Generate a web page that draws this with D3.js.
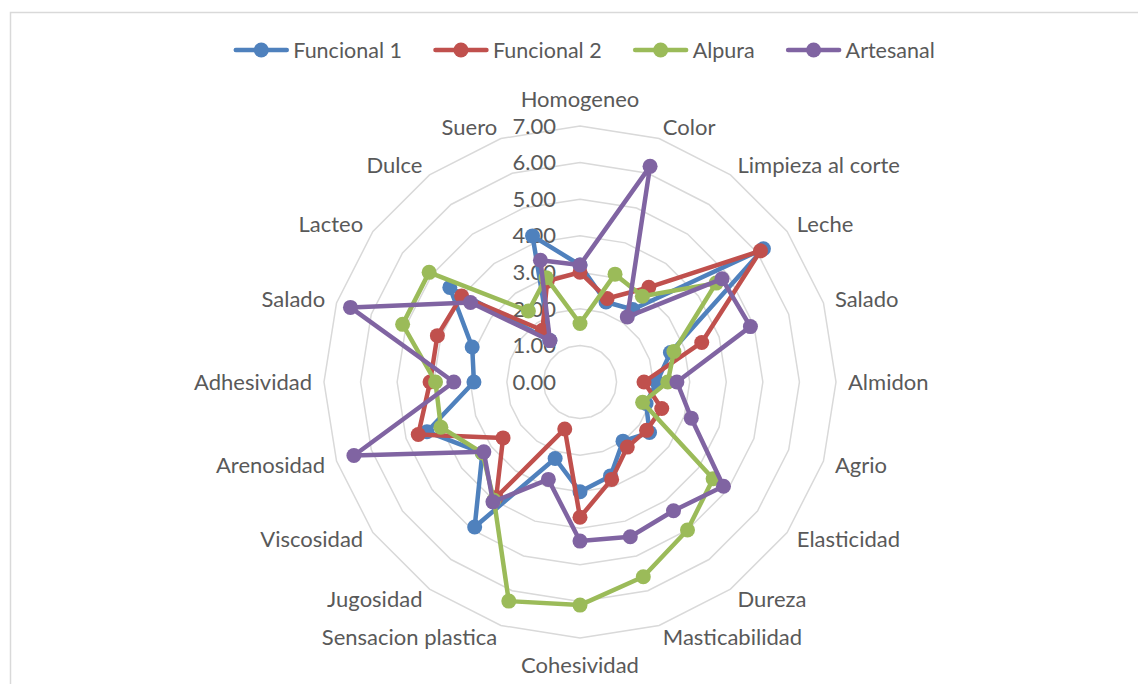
<!DOCTYPE html>
<html>
<head>
<meta charset="utf-8">
<script src="https://cdnjs.cloudflare.com/ajax/libs/d3/7.8.5/d3.min.js"></script>
<style>
  body { margin: 0; background: #fff; }
  text { font-family: Lato, "Open Sans", sans-serif; fill: #595959; }
</style>
</head>
<body>
<div id="chart"></div>
<script>
var axes = ['Homogeneo', 'Color', 'Limpieza al corte', 'Leche', 'Salado', 'Almidon', 'Agrio',
  'Elasticidad', 'Dureza', 'Masticabilidad', 'Cohesividad', 'Sensacion plastica', 'Jugosidad',
  'Viscosidad', 'Arenosidad', 'Adhesividad', 'Salado', 'Lacteo', 'Dulce', 'Suero'];

var funcional1 = [3.2, 2.3, 2.45, 6.2, 2.6, 2.1, 1.9, 2.35, 2.0, 2.7, 3.0, 2.2, 4.9, 3.3, 4.4, 2.9, 3.1, 4.4, 1.4, 4.2];
var funcional2 = [3.0, 2.4, 3.2, 6.1, 3.5, 1.75, 2.35, 2.25, 2.2, 2.8, 3.7, 1.35, 3.9, 2.6, 4.65, 4.1, 4.1, 4.0, 1.75, 2.9];
var alpura     = [1.6, 3.1, 2.9, 4.6, 2.7, 2.4, 1.8, 4.5, 5.0, 5.6, 6.1, 6.3, 4.0, 3.3, 4.0, 3.95, 5.1, 5.1, 2.4, 3.0];
var artesanal  = [3.2, 6.2, 2.2, 4.8, 4.9, 2.65, 3.2, 4.85, 4.35, 4.45, 4.35, 2.8, 4.05, 3.25, 6.5, 3.45, 6.6, 3.7, 1.4, 3.5];

var seriesNames = ['Funcional 1', 'Funcional 2', 'Alpura', 'Artesanal'];
var ticks = [0, 1, 2, 3, 4, 5, 6, 7];

var series = [funcional1, funcional2, alpura, artesanal].map(function(v, i) {
  return { name: seriesNames[i], values: v };
});

var width = 1138, height = 684,
    cx = 580, cy = 382, R = 256;

var colors = d3.scaleOrdinal()
    .domain(seriesNames)
    .range(['#4f81bd', '#c0504d', '#9bbb59', '#8064a2']);

var rScale = d3.scaleLinear()
    .domain([0, d3.max(ticks)])
    .range([0, R]);

var angle = d3.scaleLinear()
    .domain([0, axes.length])
    .range([0, 2 * Math.PI]);

function px(v, i) { return rScale(v) * Math.sin(angle(i)); }
function py(v, i) { return -rScale(v) * Math.cos(angle(i)); }

var svg = d3.select('#chart').append('svg')
    .attr('width', width)
    .attr('height', height);

// chart frame (right and bottom edges fall outside the picture)
svg.append('rect')
    .attr('x', 10.5).attr('y', 12.5)
    .attr('width', 1200).attr('height', 800)
    .style('fill', 'none')
    .style('stroke', '#d9d9d9')
    .style('stroke-width', 1.5);

var g = svg.append('g')
    .attr('transform', 'translate(' + cx + ',' + cy + ')');

// grid polygons
g.selectAll('.grid')
  .data(ticks.slice(1))
  .enter().append('path')
    .attr('class', 'grid')
    .attr('d', function(t) {
      return d3.lineRadial()
        .angle(function(d, i) { return angle(i); })
        .radius(rScale(t))
        .curve(d3.curveLinearClosed)(axes);
    })
    .style('fill', 'none')
    .style('stroke', '#d9d9d9')
    .style('stroke-width', 1.5);

// value labels
g.selectAll('.tick')
  .data(ticks)
  .enter().append('text')
    .attr('class', 'tick')
    .attr('x', -24)
    .attr('y', function(t) { return -rScale(t); })
    .attr('dy', '0.35em')
    .attr('text-anchor', 'end')
    .style('font-size', '22px')
    .text(function(t) { return d3.format('.2f')(t); });

// category labels
var labelR = R + 12;
g.selectAll('.cat')
  .data(axes)
  .enter().append('text')
    .attr('class', 'cat')
    .attr('x', function(d, i) { return labelR * Math.sin(angle(i)); })
    .attr('y', function(d, i) {
      var c = Math.cos(angle(i));
      var shift = Math.abs(Math.sin(angle(i))) < 0.01 ? -15 * c : 0;
      return -labelR * c + shift;
    })
    .attr('dy', '0.35em')
    .attr('text-anchor', function(d, i) {
      var s = Math.sin(angle(i));
      return s > 0.01 ? 'start' : (s < -0.01 ? 'end' : 'middle');
    })
    .style('font-size', '22px')
    .text(function(d) { return d; });

// series
var sg = g.selectAll('.series')
  .data(series)
  .enter().append('g')
    .attr('class', 'series');

sg.append('path')
    .attr('d', function(s) {
      return d3.lineRadial()
        .angle(function(d, i) { return angle(i); })
        .radius(function(d) { return rScale(d); })
        .curve(d3.curveLinearClosed)(s.values);
    })
    .style('fill', 'none')
    .style('stroke', function(s) { return colors(s.name); })
    .style('stroke-width', 4.5)
    .style('stroke-linejoin', 'round');

sg.selectAll('circle')
  .data(function(s) { return s.values.map(function(v) { return { v: v, name: s.name }; }); })
  .enter().append('circle')
    .attr('cx', function(d, i) { return px(d.v, i); })
    .attr('cy', function(d, i) { return py(d.v, i); })
    .attr('r', 7.5)
    .style('fill', function(d) { return colors(d.name); });

// legend
var legend = svg.append('g').attr('transform', 'translate(0,50)');
var items = legend.selectAll('.item')
  .data(seriesNames)
  .enter().append('g')
    .attr('class', 'item');

items.append('line')
    .attr('x1', 2.5).attr('x2', 53.5)
    .style('stroke', function(d) { return colors(d); })
    .style('stroke-width', 4.5)
    .style('stroke-linecap', 'round');
items.append('circle')
    .attr('cx', 28).attr('r', 7.5)
    .style('fill', function(d) { return colors(d); });
items.append('text')
    .attr('x', 60)
    .attr('dy', '0.35em')
    .style('font-size', '21.5px')
    .text(function(d) { return d; });

var offsets = [], total = 0;
items.each(function() {
  offsets.push(total);
  total += 60 + d3.select(this).select('text').node().getComputedTextLength() + 31;
});
total -= 31;
var startX = 584 - total / 2;
items.attr('transform', function(d, i) { return 'translate(' + (startX + offsets[i]) + ',0)'; });
</script>
</body>
</html>
